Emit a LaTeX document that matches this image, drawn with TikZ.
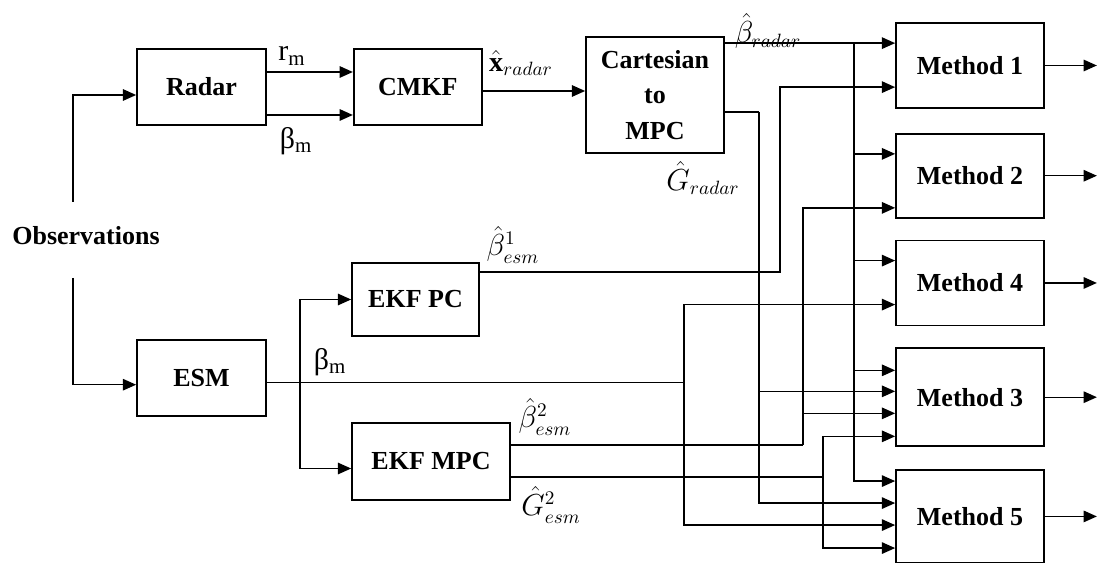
\documentclass[tikz,border=0pt]{standalone}
\usepackage{fontspec}
\setmainfont{Liberation Serif}
\usepackage{tikz}
\usetikzlibrary{
    arrows.meta,
    positioning,
    calc
}

\begin{document}
\begin{tikzpicture}[
    x=0.02cm,
    y=-0.02cm,
%
    block/.style={
        draw,
        line width=1pt,
        inner sep=0pt,
        align=center,
        font=\fontsize{14.8}{20}\selectfont\bfseries
    },
%
    method/.style={
        block,
        minimum width=2.96cm
    },
%
    arrow/.style={
        -{Triangle[length=7.5pt,width=6.5pt]},
        line width=0.8pt
    },
%
    wire/.style={
        line width=0.8pt
    },
%
    sig/.style={
        inner sep=0pt,
        font=\fontsize{16}{18}\selectfont
    },
%
    meas/.style={
        inner sep=0pt,
        font=\fontsize{17}{19}\selectfont
    }
]
\useasboundingbox (0,0) rectangle (1098,563);
%
% Sensors and their filters.
%
\node[
    block,
    minimum width=2.58cm,
    minimum height=1.52cm
] (radar) at (201.5,87) {Radar};
\node[
    block,
    minimum width=2.56cm,
    minimum height=1.52cm,
    right=1.72cm of radar
] (cmkf) {CMKF};
\node[
    block,
    minimum width=2.76cm,
    minimum height=2.32cm
] (cart) at (655,95) {Cartesian\\to\\MPC};
\node[
    block,
    minimum width=2.58cm,
    minimum height=1.52cm,
    below=4.26cm of radar
] (esm) {ESM};
\node[
    block,
    minimum width=2.54cm,
    minimum height=1.46cm
] (ekfpc) at (415.5,299.5) {EKF PC};
\node[
    block,
    minimum width=3.16cm,
    minimum height=1.54cm
] (ekfmpc) at (431,461.5) {EKF MPC};
\node[
    font=\fontsize{14.8}{20}\selectfont\bfseries
] (obs) at (86,236) {Observations};
%
% Fusion methods, stacked on the right.
%
\node[method, minimum height=1.7cm] (m1) at (970,65.5) {Method 1};
\node[method, minimum height=1.68cm, below=0.48cm of m1] (m2) {Method 2};
\node[method, minimum height=1.7cm, below=0.42cm of m2] (m4) {Method 4};
\node[method, minimum height=1.96cm, below=0.42cm of m4] (m3) {Method 3};
\node[method, minimum height=1.86cm, below=0.44cm of m3] (m5) {Method 5};
%
% Observations feed both sensors.
%
\coordinate (ot) at (73,202);
\coordinate (ob) at (73,278);
\draw[arrow] (ot) |- ($(radar.west)+(0,8)$);
\draw[arrow] (ob) |- ($(esm.west)+(0,7)$);
%
% Radar chain.
%
\draw[arrow] ($(radar.east)+(0,-15)$) coordinate (rm) -- (rm -| cmkf.west);
\draw[arrow] ($(radar.east)+(0,28)$) coordinate (bmr) -- (bmr -| cmkf.west);
\draw[arrow] ($(cmkf.east)+(0,4)$) coordinate (xr) -- (xr -| cart.west);
\node[meas] (lrm) at (292,56) {r\textsubscript{m}};
\node[meas] (lbmr) at (296,141) {β\textsubscript{m}};
\node[sig] (lxr) at (521,63) {$\hat{\mathbf{x}}_{radar}$};
%
% Radar bearing estimate goes to every method.
%
\draw[arrow] ($(cart.north east)+(0,7)$) coordinate (br) -- (br -| m1.west);
\path (br) ++(129,0) coordinate (brj);
\draw[arrow] (brj) |- ($(m2.north west)+(0,21)$);
\draw[arrow] (brj) |- ($(m4.north west)+(0,21)$);
\draw[arrow] (brj) |- ($(m3.north west)+(0,23)$);
\draw[arrow] (brj) |- ($(m5.north west)+(0,12)$);
\node[sig] (lbr) at (768,31) {$\hat{\beta}_{radar}$};
%
% Radar G estimate.
%
\draw[wire] ($(cart.east)+(0,17)$) -- ++(34,0) coordinate (grj);
\draw[arrow] (grj) |- ($(m3.north west)+(0,44)$);
\draw[arrow] (grj) |- ($(m5.north west)+(0,34)$);
\node[sig] (lgr) at (703,178) {$\hat{G}_{radar}$};
%
% ESM chain.
%
\draw[wire] ($(esm.east)+(0,5)$) coordinate (bme) -- ++(417,0) coordinate (bmj);
\path (bme) ++(33,0) coordinate (sp);
\draw[arrow] (sp) |- (ekfpc.west);
\draw[arrow] (sp) |- ($(ekfmpc.west)+(0,7)$);
\draw[arrow] (bmj) |- ($(m4.north west)+(0,65)$);
\draw[arrow] (bmj) |- ($(m5.north west)+(0,56)$);
\node[meas] (lbme) at (330,362) {β\textsubscript{m}};
%
\draw[arrow] ($(ekfpc.north east)+(0,10)$) -- ++(300,0) |- ($(m1.north west)+(0,65)$);
\node[sig] (le1) at (513,245) {$\hat{\beta}^{1}_{esm}$};
%
\draw[wire] ($(ekfmpc.north east)+(0,23)$) -- ++(292,0) coordinate (e2j);
\draw[arrow] (e2j) |- ($(m2.north west)+(0,75)$);
\draw[arrow] (e2j) |- ($(m3.north west)+(0,66)$);
\node[sig] (le2) at (545,417) {$\hat{\beta}^{2}_{esm}$};
%
\draw[wire] ($(ekfmpc.north east)+(0,55)$) -- ++(312,0) coordinate (g2j);
\draw[arrow] (g2j) |- ($(m3.north west)+(0,89)$);
\draw[arrow] (g2j) |- ($(m5.north west)+(0,79)$);
\node[sig] (lg2) at (551,505) {$\hat{G}^{2}_{esm}$};
%
% Method outputs.
%
\draw[arrow] (m1.east) -- ++(52,0);
\draw[arrow] (m2.east) -- ++(52,0);
\draw[arrow] (m4.east) -- ++(52,0);
\draw[arrow] (m3.east) -- ++(52,0);
\draw[arrow] (m5.east) -- ++(52,0);
%
\end{tikzpicture}
\end{document}
